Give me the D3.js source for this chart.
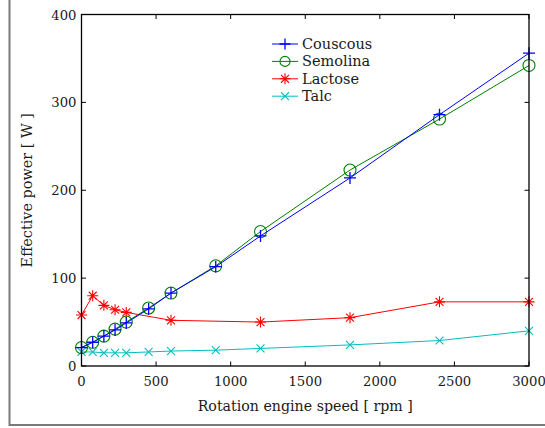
<!DOCTYPE html>
<html>
<head>
<meta charset="utf-8">
<script src="https://cdn.jsdelivr.net/npm/d3@7"></script>
<style>
  html, body { margin: 0; padding: 0; background: #fff; }
  svg { display: block; }
  text { font-family: "DejaVu Serif", serif; fill: #1a1a1a; }
</style>
</head>
<body>
<svg id="chart" width="545" height="428"></svg>
<script>
const speeds = [0, 75, 150, 225, 300, 450, 600, 900, 1200, 1800, 2400, 3000];
const couscous = [21, 27, 34, 41, 49, 65, 83, 113, 148, 214, 286, 356];
const semolina = [21, 27, 34, 42, 50, 66, 83, 114, 153, 223, 281, 342];
const lactoseSpeeds = [0, 75, 150, 225, 300, 600, 1200, 1800, 2400, 3000];
const lactose = [58, 80, 69, 64, 61, 52, 50, 55, 73, 73];
const talc = [16, 16, 15, 15, 15, 16, 17, 18, 20, 24, 29, 40];
const xTicks = [0, 500, 1000, 1500, 2000, 2500, 3000];
const yTicks = [0, 100, 200, 300, 400];
const seriesNames = ["Couscous", "Semolina", "Lactose", "Talc"];
const seriesColors = ["#0000ff", "#008000", "#ff0000", "#00bfbf"];
const seriesMarkers = ["plus", "circle", "star", "cross"];

const svg = d3.select("#chart");
const m = { left: 81.5, right: 529, top: 14.5, bottom: 366 };

// outer grey frame
svg.append("rect").attr("x", 9.5).attr("y", -10).attr("width", 600).attr("height", 435)
  .attr("fill", "none").attr("stroke", "#7a7a7a").attr("stroke-width", 2);

const x = d3.scaleLinear().domain([0, 3000]).range([m.left, m.right]);
const y = d3.scaleLinear().domain([0, 400]).range([m.bottom, m.top]);

const series = [
  { name: seriesNames[0], xs: speeds, ys: couscous },
  { name: seriesNames[1], xs: speeds, ys: semolina },
  { name: seriesNames[2], xs: lactoseSpeeds, ys: lactose },
  { name: seriesNames[3], xs: speeds, ys: talc }
];

function marker(g, type, cx, cy, color, s) {
  if (type === "plus") {
    g.append("path").attr("d", `M${cx - s},${cy}H${cx + s}M${cx},${cy - s}V${cy + s}`)
      .attr("stroke", color).attr("stroke-width", 1.3).attr("fill", "none");
  } else if (type === "circle") {
    g.append("circle").attr("cx", cx).attr("cy", cy).attr("r", s)
      .attr("stroke", color).attr("stroke-width", 1.1).attr("fill", "none");
  } else if (type === "star") {
    const d = s * 0.72;
    g.append("path").attr("d", `M${cx - s},${cy}H${cx + s}M${cx},${cy - s}V${cy + s}M${cx - d},${cy - d}L${cx + d},${cy + d}M${cx - d},${cy + d}L${cx + d},${cy - d}`)
      .attr("stroke", color).attr("stroke-width", 1.1).attr("fill", "none");
  } else if (type === "cross") {
    const d = s * 0.72;
    g.append("path").attr("d", `M${cx - d},${cy - d}L${cx + d},${cy + d}M${cx - d},${cy + d}L${cx + d},${cy - d}`)
      .attr("stroke", color).attr("stroke-width", 1.1).attr("fill", "none");
  }
}

const markerSize = [6, 6, 5.5, 5.5];

const plot = svg.append("g");
[3, 2, 1, 0].forEach(i => {
  const s = series[i];
  const pts = s.xs.map((v, j) => [x(v), y(s.ys[j])]);
  plot.append("path").attr("d", d3.line()(pts))
    .attr("fill", "none").attr("stroke", seriesColors[i]).attr("stroke-width", 1);
  const g = plot.append("g");
  pts.forEach(p => marker(g, seriesMarkers[i], p[0], p[1], seriesColors[i], markerSize[i]));
});

// axes box
svg.append("rect").attr("x", m.left).attr("y", m.top)
  .attr("width", m.right - m.left).attr("height", m.bottom - m.top)
  .attr("fill", "none").attr("stroke", "#000").attr("stroke-width", 1.3);

const tl = 4.5;
const ticks = svg.append("g").attr("stroke", "#000").attr("stroke-width", 1);
xTicks.forEach(t => {
  ticks.append("line").attr("x1", x(t)).attr("x2", x(t)).attr("y1", m.bottom).attr("y2", m.bottom - tl);
  ticks.append("line").attr("x1", x(t)).attr("x2", x(t)).attr("y1", m.top).attr("y2", m.top + tl);
});
yTicks.forEach(t => {
  ticks.append("line").attr("y1", y(t)).attr("y2", y(t)).attr("x1", m.left).attr("x2", m.left + tl);
  ticks.append("line").attr("y1", y(t)).attr("y2", y(t)).attr("x1", m.right).attr("x2", m.right - tl);
});

// tick labels
svg.append("g").selectAll("text").data(xTicks).join("text")
  .attr("x", d => x(d)).attr("y", 386).attr("text-anchor", "middle")
  .attr("font-size", 13.2).text(d => d);
svg.append("g").selectAll("text").data(yTicks).join("text")
  .attr("x", 76.5).attr("y", d => y(d) + 5).attr("text-anchor", "end")
  .attr("font-size", 13.2).text(d => d);

// axis titles
svg.append("text").attr("x", (m.left + m.right) / 2).attr("y", 411).attr("text-anchor", "middle")
  .attr("font-size", 14.2).text("Rotation engine speed [ rpm ]");
svg.append("text").attr("transform", `translate(32,${(m.top + m.bottom) / 2}) rotate(-90)`)
  .attr("text-anchor", "middle").attr("font-size", 14.4).text("Effective power [ W ]");

// legend
const leg = svg.append("g");
seriesNames.forEach((n, i) => {
  const cy = 44 + i * 17.4;
  leg.append("line").attr("x1", 272).attr("x2", 298).attr("y1", cy).attr("y2", cy)
    .attr("stroke", seriesColors[i]).attr("stroke-width", 1);
  marker(leg, seriesMarkers[i], 285, cy, seriesColors[i], i === 1 ? 5 : 5.5);
  leg.append("text").attr("x", 302).attr("y", cy + 5).attr("font-size", 14.5).text(n);
});
</script>
</body>
</html>
